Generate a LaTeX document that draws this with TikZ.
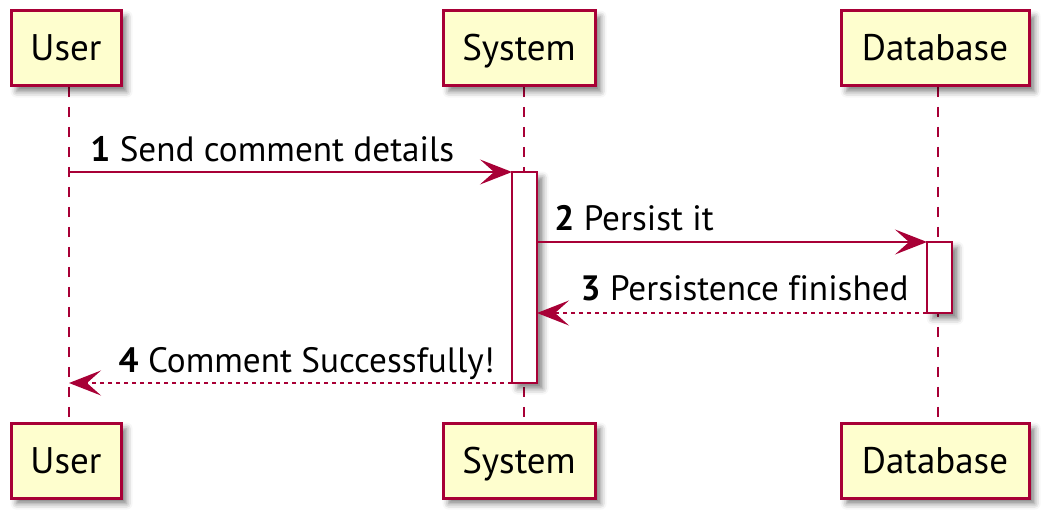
\documentclass[tikz,border=0pt]{standalone}
\usepackage{fontspec}
\setmainfont{PT Sans}[Ligatures=NoCommon]
\usetikzlibrary{arrows.meta,shadows.blur}
\definecolor{pumlred}{HTML}{A80036}
\definecolor{pumlfill}{HTML}{FEFECE}
\tikzset{
  pshadow/.style={blur shadow={shadow xshift=2.8pt, shadow yshift=-2.8pt, shadow blur radius=3pt, shadow opacity=50}},
  participant/.style={draw=pumlred, line width=1.5pt, fill=pumlfill, minimum height=37.5pt, inner sep=0pt, outer sep=0pt, text height=12.5pt, text depth=0pt, font=\fontsize{18.5}{21}\selectfont, pshadow},
  lifeline/.style={draw=pumlred, line width=1pt, dash pattern=on 5pt off 5pt},
  activation/.style={draw=pumlred, line width=1pt, fill=white, minimum width=12.5pt, inner sep=0pt, outer sep=0pt, pshadow},
  msg/.style={draw=pumlred, line width=1pt, -{Stealth[length=16pt,width=12.5pt,inset=7pt]}},
  ret/.style={msg, dash pattern=on 2pt off 2pt},
  lbl/.style={font=\fontsize{17.6}{20}\selectfont, inner sep=0pt}
}
\begin{document}
\begin{tikzpicture}[x=0.5pt,y=-0.5pt]
\useasboundingbox (0,0) rectangle (1058,528);
% lifelines
\coordinate (uTop) at (69,87);   \coordinate (uBot) at (69,423);
\coordinate (sTop) at (524,87);  \coordinate (sBot) at (524,423);
\coordinate (dTop) at (938,87);  \coordinate (dBot) at (938,423);
\draw[lifeline] (uTop) -- (uBot);
\draw[lifeline] (sTop) -- (sBot);
\draw[lifeline] (dTop) -- (dBot);
% participants
\node[participant, minimum width=55pt] (userT) at (66,48.5) {User};
\node[participant, minimum width=76pt] (sysT) at (519,48.5) {System};
\node[participant, minimum width=94pt] (dbT) at (935,48.5) {Database};
\node[participant, minimum width=55pt] (userB) at (66,460.5) {User};
\node[participant, minimum width=76pt] (sysB) at (519,460.5) {System};
\node[participant, minimum width=94pt] (dbB) at (935,460.5) {Database};
% activations
\node[activation, minimum height=105.5pt] (actS) at (524.5,277.5) {};
\node[activation, minimum height=35.5pt] (actD) at (939.5,277.5) {};
% messages
\coordinate (u1) at (69,172);
\coordinate (u4) at (69,383);
\draw[msg] (u1) -- (actS.north west);
\node[lbl, anchor=base west] (l1) at (90,162) {\textbf{1} Send comment details};
\draw[msg] (actS.east |- actD.north west) -- (actD.north west);
\node[lbl, anchor=base west] (l2) at (554,231) {\textbf{2} Persist it};
\draw[ret] (actD.south west) -- (actS.east |- actD.south west);
\node[lbl, anchor=base east] (l3) at (909,301) {\textbf{3} Persistence finished};
\draw[ret] (actS.south west) -- (u4);
\node[lbl, anchor=base east] (l4) at (495,372) {\textbf{4} Comment Successfully!};
\end{tikzpicture}
\end{document}
